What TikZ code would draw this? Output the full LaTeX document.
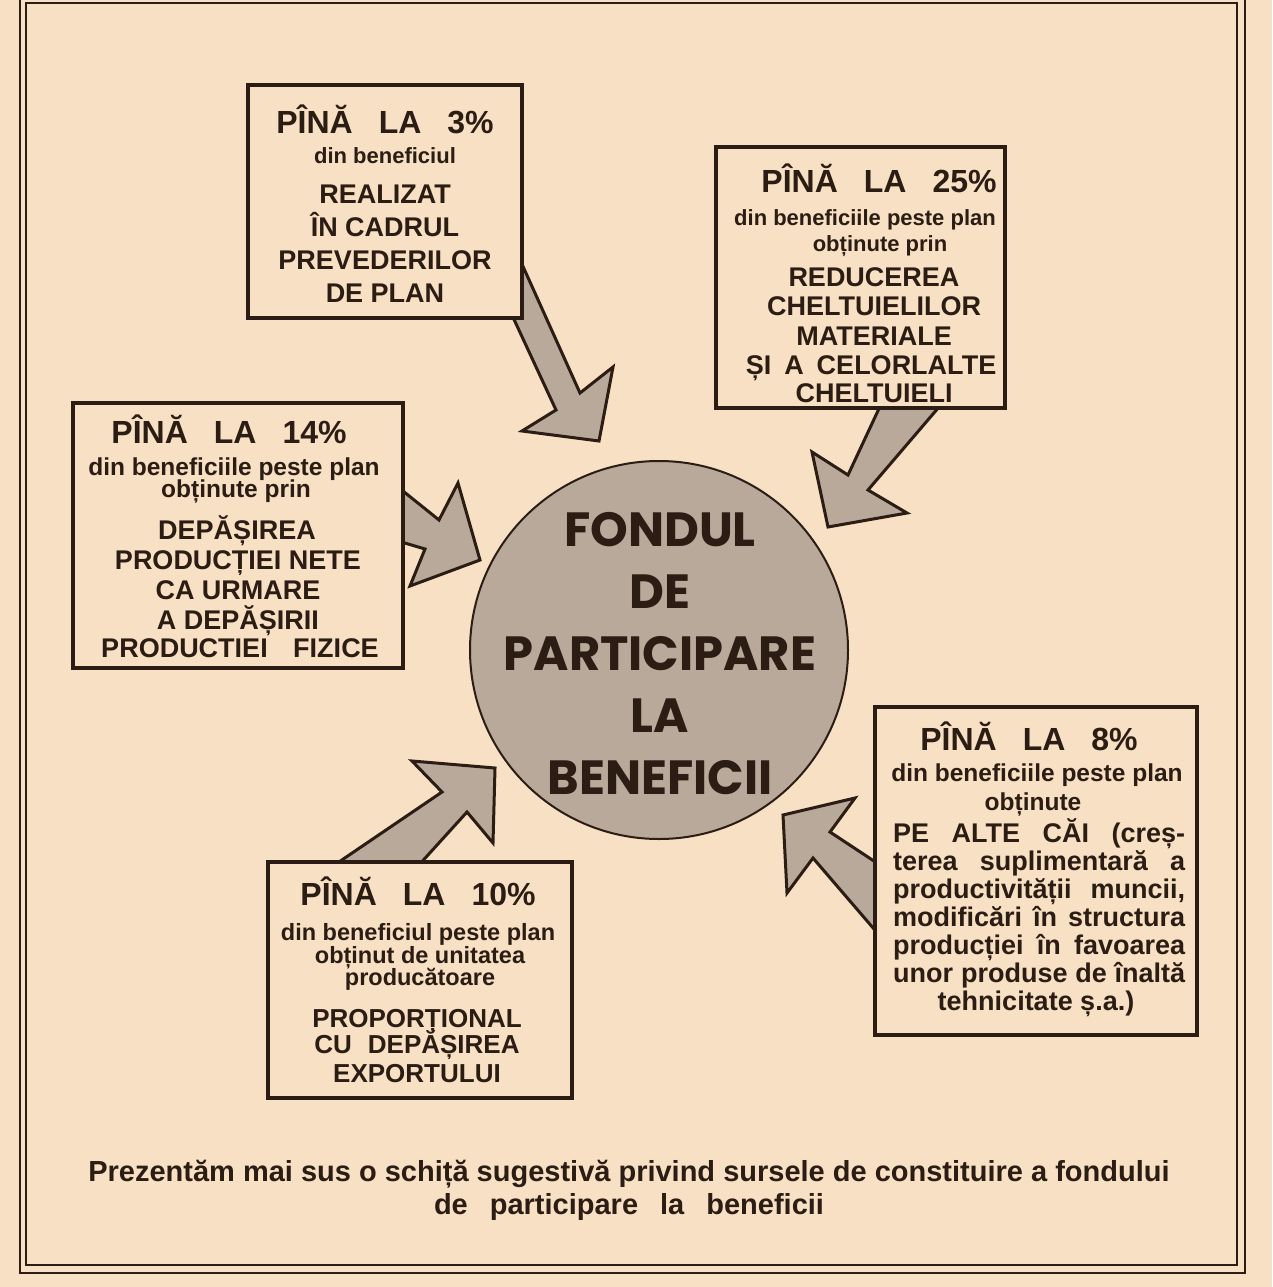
\documentclass[tikz,border=0pt]{standalone}
\usepackage{fontspec}
\setmainfont{Liberation Sans}
\newfontfamily\circfont{Poppins}
\definecolor{paper}{HTML}{F7E0C3}
\definecolor{ink}{HTML}{2B1C14}
\definecolor{tone}{HTML}{B8A99B}
\newcommand\wgap{\hspace{26pt}}
\begin{document}
\begin{tikzpicture}[x=1pt,y=-1pt,
  box/.style={draw=ink, line width=3.5pt, fill=paper, inner sep=0pt},
  blockarrow/.style={draw=ink, line width=3pt, fill=tone, line join=miter},
  ttl/.style={anchor=base, inner sep=0pt, text=ink, font=\bfseries\fontsize{32}{36}\selectfont},
  sub/.style={anchor=base, inner sep=0pt, text=ink, font=\bfseries\fontsize{22}{26}\selectfont},
  bigsub/.style={anchor=base, inner sep=0pt, text=ink, font=\bfseries\fontsize{24.5}{28}\selectfont},
  body/.style={anchor=base, inner sep=0pt, text=ink, font=\bfseries\fontsize{27}{30}\selectfont},
  just/.style={anchor=base west, inner sep=0pt, text=ink, font=\bfseries\fontsize{27}{30}\selectfont},
  captext/.style={anchor=base, inner sep=0pt, text=ink, font=\bfseries\fontsize{29}{32}\selectfont},
  frame/.style={draw=ink, line width=2pt}
]
\useasboundingbox (0,0) rectangle (1272,1287);
\fill[paper] (0,0) rectangle (1272,1287);
% frame
\draw[frame] (20,-2) rectangle (1245,1273);
\draw[frame] (26,3) rectangle (1237,1265);

% block arrows
\path[blockarrow] (521,262) -- (580,393) -- (613,367) -- (599,441) -- (522,431) -- (556,410) -- (505,300) -- cycle;
\path[blockarrow] (883,400) -- (848,475) -- (812,452) -- (828,527) -- (907,513) -- (868,490) -- (945,400) -- cycle;
\path[blockarrow] (398,487) -- (439,520) -- (458,483) -- (480,560) -- (410,586) -- (425,549) -- (398,541) -- cycle;
\path[blockarrow] (333,866) -- (442,792) -- (412,761) -- (495,768) -- (493,843) -- (467,812) -- (418,866) -- cycle;
\path[blockarrow] (880,865) -- (830,832) -- (855,798) -- (783,815) -- (787,893) -- (813,858) -- (880,936) -- cycle;

% central circle
\node[circle, draw=ink, line width=2pt, fill=tone, minimum size=378pt, inner sep=0pt] (fund) at (659,650) {};
\node[align=center, inner sep=0pt, text=ink, font=\circfont\bfseries\fontsize{48}{62}\selectfont]
  (fundtext) at (660,654) {FONDUL\\DE\\PARTICIPARE\\LA\\BENEFICII};

% boxes
\node[box, minimum width=274pt, minimum height=233pt] (b1) at (385,201.5) {};
\node[box, minimum width=289pt, minimum height=261pt] (b2) at (860.5,277.5) {};
\node[box, minimum width=330pt, minimum height=265pt] (b3) at (238,535.5) {};
\node[box, minimum width=322pt, minimum height=328pt] (b4) at (1036,871) {};
\node[box, minimum width=304pt, minimum height=236pt] (b5) at (420,980) {};

% box 1 text
\node[ttl] (b1a) at (385,133) {PÎNĂ\wgap LA\wgap 3\%};
\node[sub] (b1b) at (385,164) {din beneficiul};
\node[body] (b1c) at (385,203) {REALIZAT};
\node[body] (b1d) at (385,236) {ÎN CADRUL};
\node[body] (b1e) at (385,269) {PREVEDERILOR};
\node[body] (b1f) at (385,302) {DE PLAN};

% box 2 text
\node[ttl] (b2a) at (879,192) {PÎNĂ\wgap LA\wgap 25\%};
\node[sub] (b2b) at (865,225) {din beneficiile peste plan};
\node[sub] (b2c) at (880,251) {obținute prin};
\node[body] (b2d) at (874,286) {REDUCEREA};
\node[body] (b2e) at (874,315) {CHELTUIELILOR};
\node[body] (b2f) at (874,345) {MATERIALE};
\node[body] (b2g) at (871,374) {ȘI\hspace{13pt}A\hspace{13pt}CELORLALTE};
\node[body] (b2h) at (874,402) {CHELTUIELI};

% box 3 text
\node[ttl] (b3a) at (229,443) {PÎNĂ\wgap LA\wgap 14\%};
\node[bigsub] (b3b) at (234,475) {din beneficiile peste plan};
\node[bigsub] (b3c) at (236,497) {obținute prin};
\node[body] (b3d) at (237,539) {DEPĂȘIREA};
\node[body] (b3e) at (238,569) {PRODUCȚIEI NETE};
\node[body] (b3f) at (238,599) {CA URMARE};
\node[body] (b3g) at (238,629) {A DEPĂȘIRII};
\node[body] (b3h) at (240,657) {PRODUCTIEI\hspace{18pt} FIZICE};

% box 4 text
\node[ttl] (b4a) at (1029,750) {PÎNĂ\wgap LA\wgap 8\%};
\node[bigsub] (b4b) at (1037,781) {din beneficiile peste plan};
\node[bigsub] (b4c) at (1033,810) {obținute};
\node[just] (b4d) at (893,842) {\makebox[292pt][s]{PE ALTE CĂI (creș-}};
\node[just] (b4e) at (893,870) {\makebox[292pt][s]{terea suplimentară a}};
\node[just] (b4f) at (893,898) {\makebox[292pt][s]{productivității muncii,}};
\node[just] (b4g) at (893,926) {\makebox[292pt][s]{modificări în structura}};
\node[just] (b4h) at (893,954) {\makebox[292pt][s]{producției în favoarea}};
\node[just] (b4i) at (893,982) {\makebox[292pt][s]{unor produse de înaltă}};
\node[body] (b4j) at (1036,1010) {tehnicitate ș.a.)};

% box 5 text
\node[ttl] (b5a) at (418,905) {PÎNĂ\wgap LA\wgap 10\%};
\node[sub, font=\bfseries\fontsize{23.5}{26}\selectfont] (b5b) at (418,940) {din beneficiul peste plan};
\node[sub, font=\bfseries\fontsize{23.5}{26}\selectfont] (b5c) at (420,963) {obținut de unitatea};
\node[sub, font=\bfseries\fontsize{23.5}{26}\selectfont] (b5d) at (420,985) {producătoare};
\node[body, font=\bfseries\fontsize{26}{30}\selectfont] (b5e) at (417,1027) {PROPORȚIONAL};
\node[body, font=\bfseries\fontsize{26}{30}\selectfont] (b5f) at (417,1053) {CU\hspace{16pt}DEPĂȘIREA};
\node[body, font=\bfseries\fontsize{26}{30}\selectfont] (b5g) at (417,1082) {EXPORTULUI};

% caption
\node[captext] (c1) at (629,1181) {Prezentăm mai sus o schiță sugestivă privind sursele de constituire a fondului};
\node[captext] (c2) at (629,1214) {\makebox[390pt][s]{de participare la beneficii}};
\end{tikzpicture}
\end{document}
